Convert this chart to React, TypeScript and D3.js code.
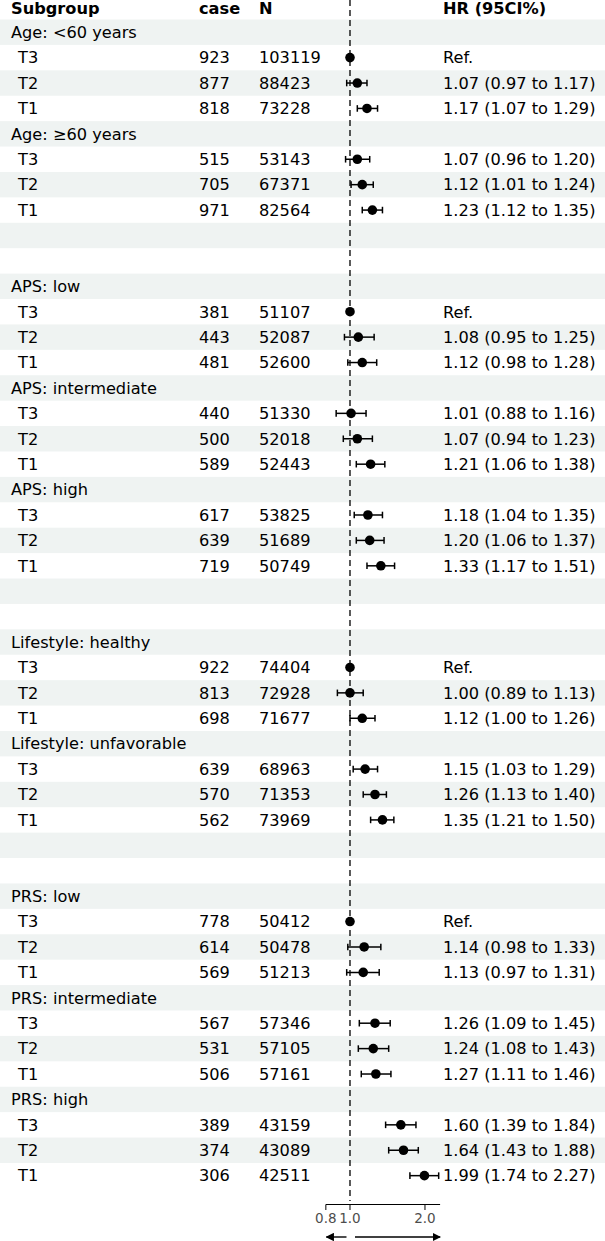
import React from "react";
import * as d3 from "d3";

const labels: string[] = [
  "Age: <60 years", "T3", "T2", "T1",
  "Age: ≥60 years", "T3", "T2", "T1",
  "", "",
  "APS: low", "T3", "T2", "T1",
  "APS: intermediate", "T3", "T2", "T1",
  "APS: high", "T3", "T2", "T1",
  "", "",
  "Lifestyle: healthy", "T3", "T2", "T1",
  "Lifestyle: unfavorable", "T3", "T2", "T1",
  "", "",
  "PRS: low", "T3", "T2", "T1",
  "PRS: intermediate", "T3", "T2", "T1",
  "PRS: high", "T3", "T2", "T1",
];

const cases: (number | null)[] = [
  null, 923, 877, 818,
  null, 515, 705, 971,
  null, null,
  null, 381, 443, 481,
  null, 440, 500, 589,
  null, 617, 639, 719,
  null, null,
  null, 922, 813, 698,
  null, 639, 570, 562,
  null, null,
  null, 778, 614, 569,
  null, 567, 531, 506,
  null, 389, 374, 306,
];

const totals: (number | null)[] = [
  null, 103119, 88423, 73228,
  null, 53143, 67371, 82564,
  null, null,
  null, 51107, 52087, 52600,
  null, 51330, 52018, 52443,
  null, 53825, 51689, 50749,
  null, null,
  null, 74404, 72928, 71677,
  null, 68963, 71353, 73969,
  null, null,
  null, 50412, 50478, 51213,
  null, 57346, 57105, 57161,
  null, 43159, 43089, 42511,
];

// hazard ratios (1 = reference)
const hr: (number | null)[] = [
  null, 1, 1.07, 1.17,
  null, 1.07, 1.12, 1.23,
  null, null,
  null, 1, 1.08, 1.12,
  null, 1.01, 1.07, 1.21,
  null, 1.18, 1.20, 1.33,
  null, null,
  null, 1, 1.00, 1.12,
  null, 1.15, 1.26, 1.35,
  null, null,
  null, 1, 1.14, 1.13,
  null, 1.26, 1.24, 1.27,
  null, 1.60, 1.64, 1.99,
];

const lower: (number | null)[] = [
  null, null, 0.97, 1.07,
  null, 0.96, 1.01, 1.12,
  null, null,
  null, null, 0.95, 0.98,
  null, 0.88, 0.94, 1.06,
  null, 1.04, 1.06, 1.17,
  null, null,
  null, null, 0.89, 1.00,
  null, 1.03, 1.13, 1.21,
  null, null,
  null, null, 0.98, 0.97,
  null, 1.09, 1.08, 1.11,
  null, 1.39, 1.43, 1.74,
];

const upper: (number | null)[] = [
  null, null, 1.17, 1.29,
  null, 1.20, 1.24, 1.35,
  null, null,
  null, null, 1.25, 1.28,
  null, 1.16, 1.23, 1.38,
  null, 1.35, 1.37, 1.51,
  null, null,
  null, null, 1.13, 1.26,
  null, 1.29, 1.40, 1.50,
  null, null,
  null, null, 1.33, 1.31,
  null, 1.45, 1.43, 1.46,
  null, 1.84, 1.88, 2.27,
];

const headers = ["Subgroup", "case", "N", "HR (95CI%)"];
const xDomain = [0.8, 2.3];
const xTicks = [0.8, 1.0, 2.0];

const W = 605;
const H = 1241;
const FONT = "DejaVu Sans";

export default function App() {
  const top = 19.5;
  const pitch = 25.41;
  const x = d3.scaleLog().domain(xDomain).range([325.85, 440.1]);
  const yc = (i: number) => top + pitch * i + pitch / 2;
  const axisY = 1204.5;
  const arrowY = 1237;
  const fmt = d3.format(".2f");
  const fs = 16.2;

  return (
    <svg
      width={W}
      height={H}
      style={{ position: "absolute", left: 0, top: 0, background: "#fff" }}
      fontFamily={FONT}
    >
      <defs>
        <marker id="ah" viewBox="0 0 10 10" refX="9" refY="5" markerWidth="6" markerHeight="6" orient="auto-start-reverse" markerUnits="strokeWidth">
          <path d="M0,0 L10,5 L0,10 z" fill="#000" />
        </marker>
      </defs>
      {labels.map((_, i) =>
        i % 2 === 0 ? (
          <rect key={"bg" + i} x={0} y={top + pitch * i} width={W} height={pitch} fill="#eff3f2" />
        ) : null
      )}
      {/* header */}
      <g fontWeight="bold" fontSize={fs} fill="#000">
        <text x={11} y={14}>{headers[0]}</text>
        <text x={199} y={14}>{headers[1]}</text>
        <text x={259} y={14}>{headers[2]}</text>
        <text x={443} y={14}>{headers[3]}</text>
      </g>
      {/* reference line */}
      <line x1={x(1)} x2={x(1)} y1={0} y2={1201} stroke="#000" strokeWidth={1.3} strokeDasharray="6,4" />
      {labels.map((lab, i) => {
        const y = yc(i);
        const isSub = lab.startsWith("T");
        const h = hr[i];
        const lo = lower[i];
        const hi = upper[i];
        return (
          <g key={"r" + i} fontSize={fs} fill="#000">
            {lab && <text x={isSub ? 18 : 11} y={y + 5.8}>{lab}</text>}
            {cases[i] != null && <text x={199} y={y + 5.8}>{cases[i]}</text>}
            {totals[i] != null && <text x={259} y={y + 5.8}>{totals[i]}</text>}
            {h != null && (
              <text x={443} y={y + 5.8}>
                {lo == null ? "Ref." : `${fmt(h)} (${fmt(lo)} to ${fmt(hi as number)})`}
              </text>
            )}
            {lo != null && hi != null && (
              <g stroke="#000" strokeWidth={1.5}>
                <line x1={x(lo)} x2={x(hi)} y1={y} y2={y} />
                <line x1={x(lo)} x2={x(lo)} y1={y - 3.3} y2={y + 3.3} />
                <line x1={x(hi)} x2={x(hi)} y1={y - 3.3} y2={y + 3.3} />
              </g>
            )}
            {h != null && <circle cx={x(h)} cy={y} r={4.8} fill="#000" />}
          </g>
        );
      })}
      {/* x axis */}
      <g>
        <line x1={x(xDomain[0])} x2={x(xDomain[1])} y1={axisY} y2={axisY} stroke="#000" strokeWidth={1} />
        {xTicks.map((t) => (
          <g key={"t" + t}>
            <line x1={x(t)} x2={x(t)} y1={axisY} y2={axisY + 5.5} stroke="#000" strokeWidth={1} />
            <text x={x(t)} y={1223} textAnchor="middle" fontSize={13.5} fill="#4d4d4d">
              {d3.format(".1f")(t)}
            </text>
          </g>
        ))}
      </g>
      {/* arrows */}
      <line x1={x(1) - 3.5} x2={x(xDomain[0]) + 0.5} y1={arrowY} y2={arrowY} stroke="#000" strokeWidth={1.4} markerEnd="url(#ah)" />
      <line x1={x(1) + 5} x2={x(xDomain[1])} y1={arrowY} y2={arrowY} stroke="#000" strokeWidth={1.4} markerEnd="url(#ah)" />
    </svg>
  );
}
